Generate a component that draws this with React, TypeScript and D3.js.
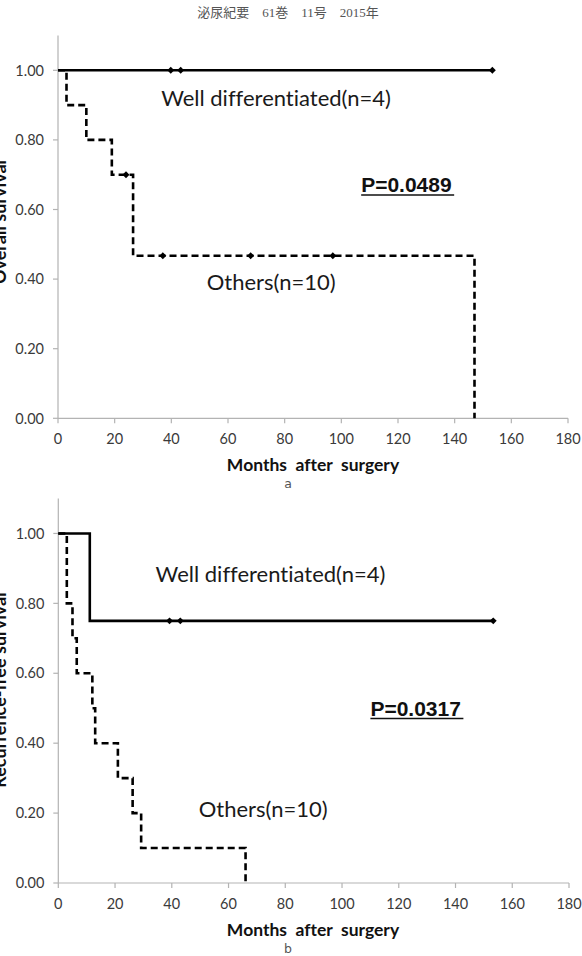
import React from 'react';
import * as d3 from 'd3';

const monthTicks = [0, 20, 40, 60, 80, 100, 120, 140, 160, 180];
const survivalTicks = [0, 0.2, 0.4, 0.6, 0.8, 1.0];

// a: overall survival
const osWellTimes = [0, 153.3];
const osWellSurv = [1, 1];
const osWellCensored = [39.8, 43.3, 153.3];
const osOtherTimes = [0, 3, 10, 19, 26.5, 147];
const osOtherSurv = [1, 0.9, 0.8, 0.7, 0.467, 0];
const osOtherCensored = [24, 37, 68, 97];

// b: recurrence-free survival
const rfsWellTimes = [0, 11.1, 153.3];
const rfsWellSurv = [1, 0.75, 0.75];
const rfsWellCensored = [39.2, 43, 153.3];
const rfsOtherTimes = [0, 3, 5, 6.5, 12, 13, 21, 26.2, 29.2, 66];
const rfsOtherSurv = [1, 0.8, 0.7, 0.6, 0.5, 0.4, 0.3, 0.2, 0.1, 0];
const rfsOtherCensored: number[] = [];

const labelFont = 'Lato, "Open Sans", sans-serif';
const noLig = {fontVariantLigatures: 'none'} as React.CSSProperties;
const preText = {fontVariantLigatures: 'none', whiteSpace: 'pre'} as React.CSSProperties;

const survAt = (times: number[], surv: number[], t: number) => {
    let v = surv[0];
    times.forEach((tt, i) => { if (tt <= t) v = surv[i]; });
    return v;
};

const KMPanel = (props: any) => {
    const { top, bottom, left, right, yTitle, pText, caption, curves, notes } = props;
    const x = d3.scaleLinear().domain([0, 180]).range([left, right]);
    const y = d3.scaleLinear().domain([0, 1.1]).range([bottom, top]);
    const line = d3.line<[number, number]>()
        .x(d => x(d[0]))
        .y(d => y(d[1]))
        .curve(d3.curveStepAfter);
    const diamond = d3.symbol().type(d3.symbolSquare).size(24);
    const axisColor = '#b3b3b3';
    const tickColor = '#3a3a3a';

    return (
        <g style={noLig}>
            {/* axes */}
            <line x1={x(0)} x2={x(180)} y1={y(0)} y2={y(0)} stroke={axisColor} strokeWidth={1.2}/>
            <line x1={x(0)} x2={x(0)} y1={y(0)} y2={y(1.1)} stroke={axisColor} strokeWidth={1.2}/>
            {monthTicks.map(m => (
                <g key={'x' + m}>
                    <line x1={x(m)} x2={x(m)} y1={y(0)} y2={y(0) + 5} stroke={axisColor} strokeWidth={1.2}/>
                    <text x={x(m)} y={y(0) + 25.5} textAnchor="middle" fontFamily={labelFont}
                          fontSize={14.5} fill={tickColor}>{m}</text>
                </g>
            ))}
            {survivalTicks.map(s => (
                <g key={'y' + s}>
                    <line x1={x(0) - 5} x2={x(0)} y1={y(s)} y2={y(s)} stroke={axisColor} strokeWidth={1.2}/>
                    <text x={x(0) - 14} y={y(s)} dy="0.36em" textAnchor="end" fontFamily={labelFont}
                          fontSize={14.5} fill={tickColor}>{s.toFixed(2)}</text>
                </g>
            ))}
            <text transform={`translate(6,${props.yTitleMid}) rotate(-90)`} textAnchor="middle"
                  fontFamily={labelFont} fontWeight="bold" fontSize={18} fill="#111">{yTitle}</text>
            <text x={313} y={y(0) + 52.5} textAnchor="middle" fontFamily={labelFont} fontWeight="bold"
                  fontSize={17.5} fill="#111" style={preText} xmlSpace="preserve">{'Months  after  surgery'}</text>
            <text x={288} y={y(0) + 70} textAnchor="middle" fontFamily="'DejaVu Sans', sans-serif"
                  fontSize={12.5} fill="#555">{caption}</text>

            {/* survival curves */}
            {curves.map((c: any, i: number) => {
                const pts = c.times.map((t: number, k: number) => [t, c.surv[k]] as [number, number]);
                return (
                    <g key={'c' + i}>
                        <path d={line(pts) || ''} fill="none" stroke="#000" strokeWidth={2.6}
                              strokeDasharray={c.dashed ? '7,4' : undefined}/>
                        {c.censored.map((t: number, k: number) => (
                            <path key={k} d={diamond() || ''} fill="#000"
                                  transform={`translate(${x(t)},${y(survAt(c.times, c.surv, t))}) rotate(45)`}/>
                        ))}
                    </g>
                );
            })}

            {/* group labels and p value */}
            {notes.map((n: any, i: number) => (
                <text key={'n' + i} x={x(n.m)} y={y(n.s)} fontFamily={labelFont} fontSize={22}
                      fill="#1a1a1a" style={noLig}>{n.text}</text>
            ))}
            <text x={x(pText.m)} y={y(pText.s)} fontFamily="'Liberation Sans', Arial, sans-serif"
                  fontWeight="bold" fontSize={21} fill="#111">{pText.text}</text>
            <line x1={x(pText.m)} x2={x(pText.m) + 93} y1={y(pText.s) + 2.5} y2={y(pText.s) + 2.5}
                  stroke="#111" strokeWidth={1.5}/>
        </g>
    );
};

export default function App() {
    return (
        <svg width={582} height={956} style={{position: 'absolute', left: 0, top: 0, background: '#fff'}}>
            <text x={288} y={16.5} textAnchor="middle" fontFamily="'Liberation Serif', 'Noto Sans CJK JP', serif"
                  fontSize={13} fill="#555" style={{whiteSpace: 'pre'}}>{'泌尿紀要　61巻　11号　2015年'}</text>
            <KMPanel top={35.5} bottom={418.3} left={58} right={568} yTitle="Overall survival" yTitleMid={222}
                     caption="a"
                     curves={[
                         {times: osWellTimes, surv: osWellSurv, censored: osWellCensored, dashed: false},
                         {times: osOtherTimes, surv: osOtherSurv, censored: osOtherCensored, dashed: true},
                     ]}
                     notes={[
                         {m: 36.4, s: 0.896, text: 'Well differentiated(n=4)'},
                         {m: 52.5, s: 0.369, text: 'Others(n=10)'},
                     ]}
                     pText={{m: 107, s: 0.649, text: 'P=0.0489'}}/>
            <KMPanel top={498.5} bottom={883} left={58.3} right={569} yTitle="Recurrence-free survival" yTitleMid={690}
                     caption="b"
                     curves={[
                         {times: rfsWellTimes, surv: rfsWellSurv, censored: rfsWellCensored, dashed: false},
                         {times: rfsOtherTimes, surv: rfsOtherSurv, censored: rfsOtherCensored, dashed: true},
                     ]}
                     notes={[
                         {m: 34.3, s: 0.86, text: 'Well differentiated(n=4)'},
                         {m: 49.5, s: 0.189, text: 'Others(n=10)'},
                     ]}
                     pText={{m: 110, s: 0.478, text: 'P=0.0317'}}/>
        </svg>
    );
}
